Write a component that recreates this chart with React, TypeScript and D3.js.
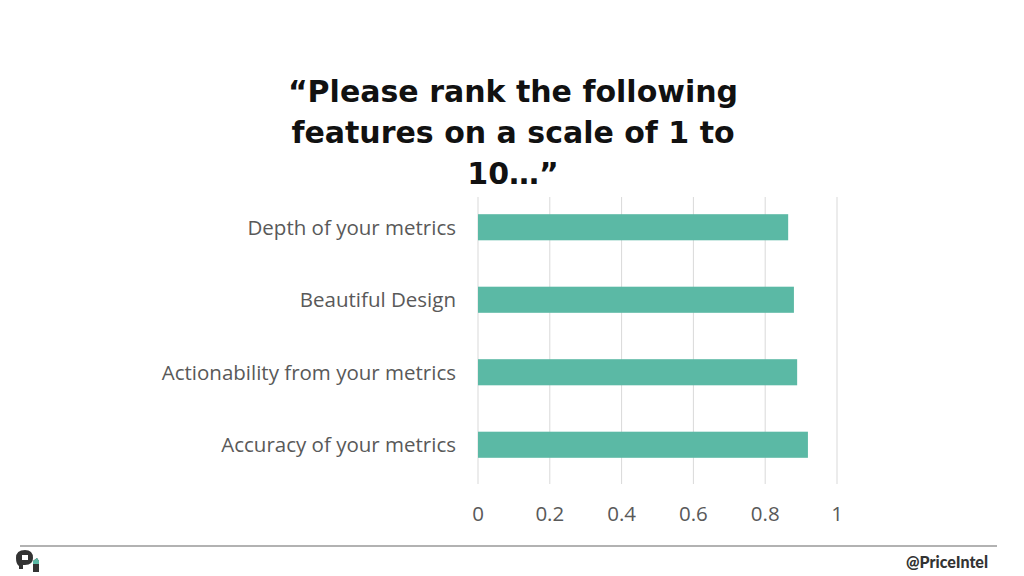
import React from "react";
import * as d3 from "d3";

const categories = [
  "Depth of your metrics",
  "Beautiful Design",
  "Actionability from your metrics",
  "Accuracy of your metrics",
];
const scores = [0.864, 0.88, 0.889, 0.919];
const xTicks = [0, 0.2, 0.4, 0.6, 0.8, 1];
const titleLines = ["\u201CPlease rank the following", "features on a scale of 1 to", "10\u2026\u201D"];

const W = 1024;
const H = 576;

const App = () => {
  const x = d3.scaleLinear().domain([0, 1]).range([478, 837]);
  const y = d3
    .scaleBand()
    .domain(categories)
    .range([191, 481])
    .paddingInner(0.64)
    .paddingOuter(0.32);

  const gridTop = 197;
  const gridBottom = 484;

  return (
    <svg width={W} height={H} style={{ position: "absolute", left: 0, top: 0, background: "#fff" }}>
      {/* title */}
      {titleLines.map((t, i) => (
        <text
          key={i}
          x={513}
          y={102 + i * 41}
          textAnchor="middle"
          fontFamily="'DejaVu Sans', sans-serif"
          fontWeight={700}
          fontSize={30}
          fill="#111"
        >
          {t}
        </text>
      ))}

      {/* grid */}
      {xTicks.map((t) => (
        <line
          key={t}
          x1={x(t)}
          x2={x(t)}
          y1={gridTop}
          y2={gridBottom}
          stroke="#d9d9d9"
          strokeWidth={1}
        />
      ))}

      {/* bars */}
      {categories.map((c, i) => (
        <rect
          key={c}
          x={x(0)}
          y={y(c)}
          width={x(scores[i]) - x(0)}
          height={y.bandwidth()}
          fill="#5bb9a5"
        />
      ))}

      {/* category labels */}
      {categories.map((c) => (
        <text
          key={c}
          x={456}
          y={(y(c) as number) + y.bandwidth() / 2}
          dy="0.36em"
          textAnchor="end"
          fontFamily="'Open Sans', sans-serif"
          fontSize={20.5}
          fill="#595959"
        >
          {c}
        </text>
      ))}

      {/* x tick labels */}
      {xTicks.map((t) => (
        <text
          key={t}
          x={x(t)}
          y={521}
          textAnchor="middle"
          fontFamily="'Open Sans', sans-serif"
          fontSize={20.5}
          fill="#595959"
        >
          {d3.format("~g")(t)}
        </text>
      ))}

      {/* footer */}
      <line x1={20} x2={997} y1={546} y2={546} stroke="#999" strokeWidth={1.5} />
      <g transform="translate(16,550)">
        <path
          d="M0,8 Q0,0 9,0 Q17,0 17,8 Q17,15 9,15 L7,15 L7,19 L3,19 L3,16 Q0,14 0,8 Z"
          fill="#333"
        />
        <rect x={6} y={5} width={6} height={5} fill="#fff" />
        <path d="M17,11 L21,8 L23,11 L23,22 L17,22 Z" fill="#333" />
        <path d="M17,11 L21,8 L23,11 L23,14 L17,14 Z" fill="#5bb9a5" />
      </g>
      <text
        x={988}
        y={568}
        textAnchor="end"
        fontFamily="Lato, sans-serif"
        fontWeight={900}
        fontSize={16}
        fill="#333"
      >
        @PriceIntel
      </text>
    </svg>
  );
};

export default App;
